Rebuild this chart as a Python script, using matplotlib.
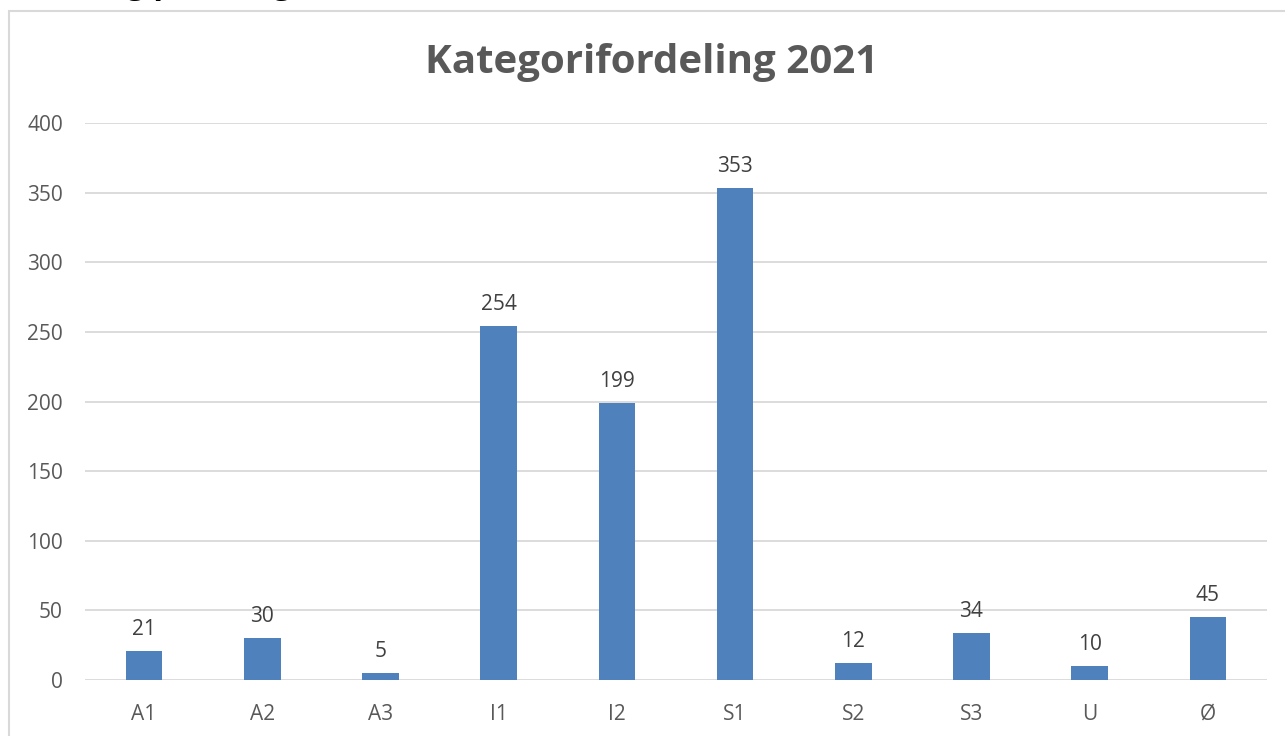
import matplotlib.pyplot as plt
from matplotlib.patches import Rectangle

kategorier = ['A1', 'A2', 'A3', 'I1', 'I2', 'S1', 'S2', 'S3', 'U', 'Ø']
antall = [21, 30, 5, 254, 199, 353, 12, 34, 10, 45]
yticks = [0, 50, 100, 150, 200, 250, 300, 350, 400]

plt.rcParams['font.family'] = ['Open Sans', 'DejaVu Sans']

W, H = 1285, 736
fig = plt.figure(figsize=(W / 100, H / 100), dpi=100)

# chart frame (cut off at right and bottom)
fig.patches.append(Rectangle((9 / W, -0.1), 1.2, (736 - 11) / H + 0.1,
                             transform=fig.transFigure, fill=False,
                             edgecolor='#d9d9d9', linewidth=1.5))

# heading above the chart, only its descenders show in the picture
fig.text(-4 / W, 1 + 7 / H, 'Fordeling på kategorier', fontsize=23,
         fontweight='bold', color='black', va='baseline', ha='left')

ax = fig.add_axes([85 / W, (H - 680) / H, (1267 - 85) / W, (680 - 123) / H])
x = range(len(kategorier))
bars = ax.bar(x, antall, width=0.31, color='#4f81bd', zorder=3)
for b, v in zip(bars, antall):
    ax.annotate(str(v), (b.get_x() + b.get_width() / 2, v), xytext=(0, 8),
                textcoords='offset points', ha='center', va='bottom',
                fontsize=15, color='#404040')

ax.set_xlim(-0.5, len(kategorier) - 0.5)
ax.set_ylim(0, 400)
ax.set_yticks(yticks)
ax.set_xticks(list(x))
ax.set_xticklabels(kategorier)
ax.tick_params(length=0, labelsize=15, labelcolor='#595959')
ax.tick_params(axis='y', pad=16)
ax.tick_params(axis='x', pad=17)
ax.grid(axis='y', color='#d9d9d9', linewidth=1.3, zorder=0)
for s in ax.spines.values():
    s.set_visible(False)

fig.text(652 / W, 1 - 62 / H, 'Kategorifordeling 2021', ha='center', va='center',
         fontsize=29, fontweight='bold', color='#595959')

fig.savefig('out.png', dpi=100)
